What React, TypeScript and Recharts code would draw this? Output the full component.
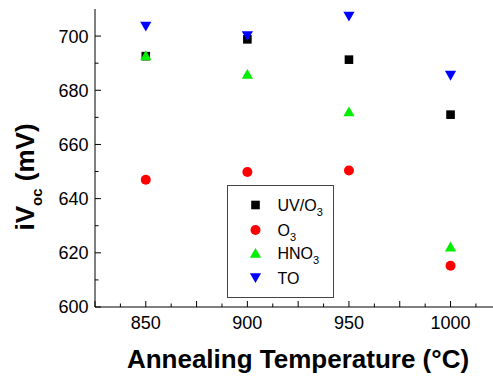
import React from 'react';
import { ScatterChart, Scatter, XAxis, YAxis, Legend } from 'recharts';

// Annealing temperatures (°C)
const temperatures = [850, 900, 950, 1000];

// Implied open-circuit voltage (mV) per surface treatment
const uvO3Values = [692.6, 698.8, 691.3, 671.0];
const o3Values = [647.0, 649.8, 650.4, 615.2];
const hno3Values = [692.9, 686.0, 672.2, 622.3];
const toValues = [703.5, 700.0, 707.2, 685.4];

// Axis ticks
const xLabelTicks = [850, 900, 950, 1000];
const xAllTicks = [
  825, 837.5, 850, 862.5, 875, 887.5, 900, 912.5, 925, 937.5, 950, 962.5, 975, 987.5, 1000,
  1012.5,
];
const yLabelTicks = [600, 620, 640, 660, 680, 700];
const yAllTicks = [600, 610, 620, 630, 640, 650, 660, 670, 680, 690, 700];

const FONT = '"Liberation Sans", Arial, Helvetica, sans-serif';

type Kind = 'square' | 'circle' | 'up' | 'down';

const toPoints = (values: number[]) => temperatures.map((t, i) => ({ t, v: values[i] }));

const series = [
  { key: 'uv', name: 'UV/O', sub: '3', color: '#000000', kind: 'square' as Kind, data: toPoints(uvO3Values) },
  { key: 'o3', name: 'O', sub: '3', color: '#ff0000', kind: 'circle' as Kind, data: toPoints(o3Values) },
  { key: 'hno3', name: 'HNO', sub: '3', color: '#00ee00', kind: 'up' as Kind, data: toPoints(hno3Values) },
  { key: 'to', name: 'TO', sub: '', color: '#0000ff', kind: 'down' as Kind, data: toPoints(toValues) },
];

function Marker({ kind, cx, cy, color }: { kind: Kind; cx: number; cy: number; color: string }) {
  if (cx == null || cy == null) return null;
  switch (kind) {
    case 'square':
      return <rect x={cx - 4.3} y={cy - 4.3} width={8.6} height={8.6} fill={color} />;
    case 'circle':
      return <circle cx={cx} cy={cy} r={5} fill={color} />;
    case 'up':
      return (
        <polygon
          points={`${cx - 5.6},${cy + 4.8} ${cx + 5.6},${cy + 4.8} ${cx},${cy - 5}`}
          fill={color}
        />
      );
    case 'down':
      return (
        <polygon
          points={`${cx - 5.6},${cy - 4.8} ${cx + 5.6},${cy - 4.8} ${cx},${cy + 5}`}
          fill={color}
        />
      );
  }
  return null;
}

const BottomTick = (props: any) => {
  const { x, y, payload } = props;
  const v = payload.value as number;
  const len = v % 25 === 0 ? 6 : 3.5;
  return (
    <g>
      <line x1={x} x2={x} y1={y} y2={y - len} stroke="#000" strokeWidth={1} />
      {xLabelTicks.includes(v) && (
        <text x={x} y={y + 22} textAnchor="middle" fontFamily={FONT} fontSize={18} fill="#000">
          {v}
        </text>
      )}
    </g>
  );
};

const TopTick = (props: any) => {
  const { x, y, payload } = props;
  const v = payload.value as number;
  const len = v % 25 === 0 ? 6 : 3.5;
  return <line x1={x} x2={x} y1={y} y2={y + len} stroke="#000" strokeWidth={1} />;
};

const LeftTick = (props: any) => {
  const { x, y, payload } = props;
  const v = payload.value as number;
  const len = v % 20 === 0 ? 6 : 3.5;
  return (
    <g>
      <line x1={x} x2={x + len} y1={y} y2={y} stroke="#000" strokeWidth={1} />
      {yLabelTicks.includes(v) && (
        <text
          x={x - 6.5}
          y={y}
          dy="0.36em"
          textAnchor="end"
          fontFamily={FONT}
          fontSize={18}
          fill="#000"
        >
          {v}
        </text>
      )}
    </g>
  );
};

const XTitle = (props: any) => {
  const vb = props.viewBox;
  return (
    <text
      x={vb.x + 203}
      y={vb.y + 61}
      textAnchor="middle"
      fontFamily={FONT}
      fontSize={26}
      fontWeight="bold"
      fill="#000"
    >
      Annealing Temperature (°C)
    </text>
  );
};

const YTitle = (props: any) => {
  const vb = props.viewBox;
  const x = vb.x + 34;
  const y = vb.y + vb.height / 2 + 19;
  return (
    <text
      x={x}
      y={y}
      transform={`rotate(-90 ${x} ${y})`}
      textAnchor="middle"
      fontFamily={FONT}
      fontSize={26}
      fontWeight="bold"
      fill="#000"
    >
      iV
      <tspan fontSize={15} dy={8}>
        oc
      </tspan>
      <tspan dy={-8}> (mV)</tspan>
    </text>
  );
};

const LegendBox = () => {
  const w = 107;
  const h = 113;
  const rows = [20, 45, 68, 93];
  return (
    <svg width={w} height={h} style={{ display: 'block' }}>
      <rect x={0.5} y={0.5} width={w - 1} height={h - 1} fill="#fff" stroke="#444" strokeWidth={1} />
      {series.map((s, i) => (
        <g key={s.key}>
          <Marker kind={s.kind} cx={28.5} cy={rows[i]} color={s.color} />
          <text x={50.5} y={rows[i]} dy="0.36em" fontFamily={FONT} fontSize={16} fill="#000">
            {s.name}
            {s.sub && (
              <tspan fontSize={11} dy={5}>
                {s.sub}
              </tspan>
            )}
          </text>
        </g>
      ))}
    </svg>
  );
};

export default function App() {
  return (
    <div
      style={{
        position: 'absolute',
        left: 0,
        top: 0,
        width: 493,
        height: 377,
        overflow: 'hidden',
        background: '#fff',
      }}
    >
      <ScatterChart
        width={493}
        height={377}
        margin={{ top: 9, right: 0, bottom: 0, left: 0 }}
        accessibilityLayer={false}
      >
        <XAxis
          xAxisId="top"
          orientation="top"
          type="number"
          dataKey="t"
          domain={[825, 1020.9]}
          ticks={xAllTicks}
          interval={0}
          height={0}
          tickSize={0}
          tickMargin={0}
          tickLine={false}
          tick={<TopTick />}
          axisLine={{ stroke: '#000', strokeWidth: 1 }}
          allowDataOverflow
        />
        <XAxis
          type="number"
          dataKey="t"
          domain={[825, 1020.9]}
          ticks={xAllTicks}
          interval={0}
          height={70}
          tickSize={0}
          tickMargin={0}
          tickLine={false}
          tick={<BottomTick />}
          axisLine={{ stroke: '#000', strokeWidth: 1 }}
          allowDataOverflow
          label={<XTitle />}
        />
        <YAxis
          type="number"
          dataKey="v"
          domain={[600, 710]}
          ticks={yAllTicks}
          interval={0}
          width={95}
          tickSize={0}
          tickMargin={0}
          tickLine={false}
          tick={<LeftTick />}
          axisLine={{ stroke: '#000', strokeWidth: 1 }}
          allowDataOverflow
          label={<YTitle />}
        />
        {series.map((s) => (
          <Scatter
            key={s.key}
            name={s.name + s.sub}
            data={s.data}
            fill={s.color}
            isAnimationActive={false}
            shape={(p: any) => <Marker kind={s.kind} cx={p.cx} cy={p.cy} color={s.color} />}
          />
        ))}
        <Legend
          layout="horizontal"
          verticalAlign="middle"
          align="center"
          content={<LegendBox />}
          wrapperStyle={{ position: 'absolute', left: 227, top: 185, width: 107, height: 113 }}
        />
      </ScatterChart>
    </div>
  );
}
